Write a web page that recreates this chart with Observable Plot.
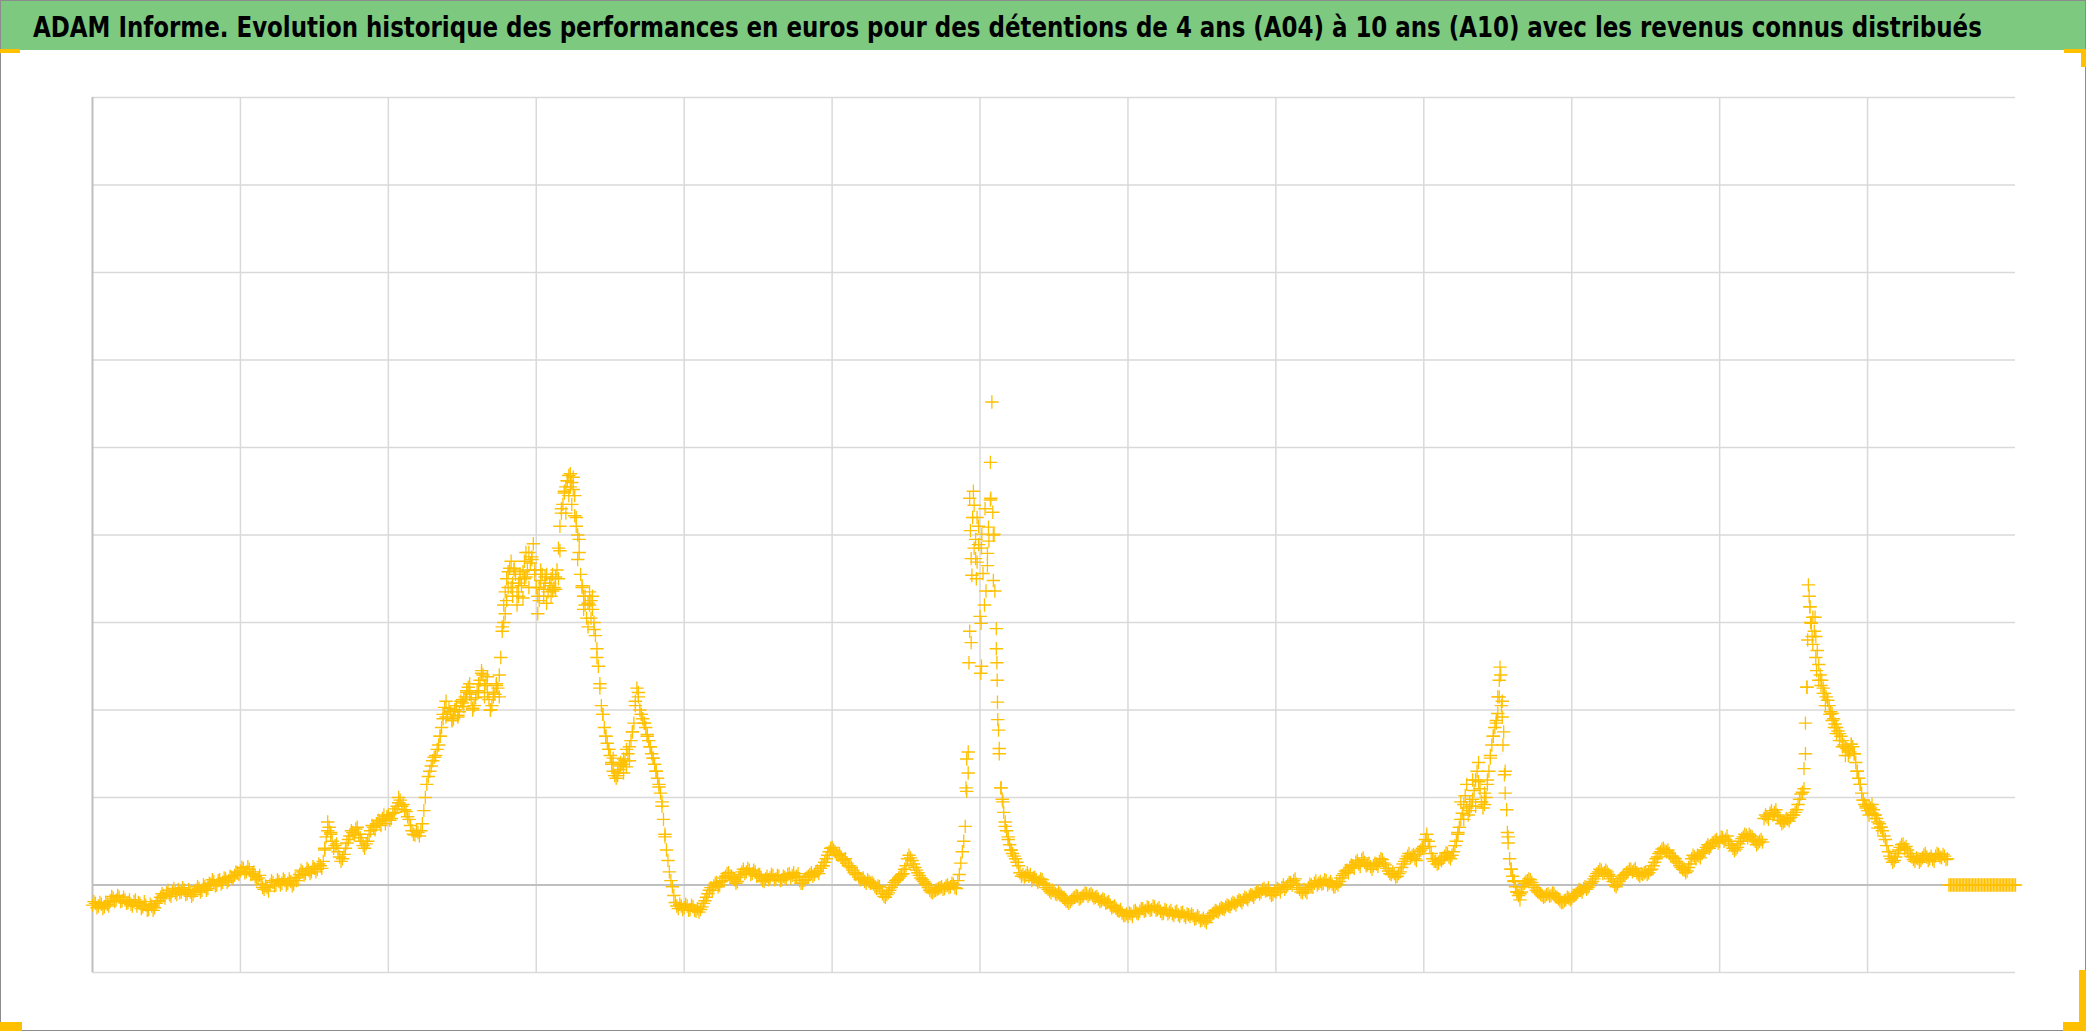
<!DOCTYPE html>
<html><head><meta charset="utf-8">
<script src="https://cdn.jsdelivr.net/npm/d3@7"></script>
<script src="https://cdn.jsdelivr.net/npm/@observablehq/plot@0.6"></script>
<style>
html,body{margin:0;padding:0;background:#fff;}
#frame{position:relative;width:2086px;height:1031px;overflow:hidden;background:#fff;}
#border{position:absolute;left:0;top:0;width:2084px;height:1029px;border:1px solid #8c8c8c;pointer-events:none;z-index:3;}
#titleSvg{position:absolute;left:0;top:0;}
#chart{position:absolute;left:0;top:50px;}
.h{position:absolute;background:#ffc000;z-index:4;}
</style>
</head><body>
<div id="frame">
  <svg id="titleSvg" width="2086" height="50">
    <rect x="0" y="0" width="2086" height="50" fill="#7dc97f"></rect>
    <text id="titleText" x="0" y="0" font-family="'Liberation Sans Narrow','DejaVu Sans Condensed','Roboto',sans-serif" font-weight="bold" font-size="29" fill="#000"></text>
  </svg>
  <div id="chart"></div>
  <div id="border"></div>
  <div class="h" style="left:0;top:49px;width:20px;height:4px"></div>
  <div class="h" style="left:2064px;top:49px;width:22px;height:4px"></div>
  <div class="h" style="left:2081px;top:49px;width:5px;height:18px"></div>
  <div class="h" style="left:0;top:1022px;width:22px;height:9px"></div>
  <div class="h" style="left:2063px;top:1022px;width:23px;height:9px"></div>
  <div class="h" style="left:2079px;top:970px;width:7px;height:61px"></div>
</div>
<script>
const title = "ADAM Informe. Evolution historique des performances en euros pour des détentions de 4 ans (A04) à 10 ans (A10) avec les revenus connus distribués";

// Grid positions (no labels shown on the original)
const xTicks = [1,2,3,4,5,6,7,8,9,10,11,12];
const yTicks = [-1,1,2,3,4,5,6,7,8,9];
const xDomain = [0, 13];
const yDomain = [-1, 9];
const dt = 0.02; // regular sampling step of the series along x

// Main series, one segment per x-interval (50 samples each)
const seg00 = [-0.23,-0.21,-0.24,-0.22,-0.25,-0.22,-0.18,-0.15,-0.17,-0.14,-0.18,-0.17,-0.20,-0.22,-0.19,-0.24,-0.21,-0.25,-0.23,-0.28,-0.24,-0.26,-0.19,-0.14,-0.12,-0.09,-0.11,-0.07,-0.09,-0.05,-0.08,-0.06,-0.10,-0.08,-0.11,-0.06,-0.04,-0.06,-0.02,-0.04,0.01,0.04,0.00,0.06,0.03,0.07,0.05,0.09,0.11,0.14];
const seg01 = [0.16,0.19,0.15,0.18,0.13,0.10,0.08,0.01,-0.05,-0.03,0.00,0.03,0.00,0.04,0.02,0.05,0.02,0.04,0.01,0.05,0.12,0.15,0.13,0.17,0.15,0.19,0.18,0.22,0.27,0.55,0.66,0.50,0.45,0.38,0.27,0.35,0.48,0.56,0.60,0.64,0.58,0.50,0.42,0.50,0.62,0.66,0.70,0.72,0.76,0.70];
const seg02 = [0.80,0.76,0.83,0.90,0.97,0.92,0.84,0.75,0.62,0.57,0.60,0.62,0.85,1.15,1.30,1.42,1.48,1.60,1.80,2.03,1.95,1.98,1.90,2.05,1.98,2.08,2.15,2.26,2.12,2.05,2.22,2.34,2.40,2.30,2.12,2.05,2.18,2.25,2.60,3.20,3.50,3.62,3.45,3.55,3.30,3.42,3.70,3.60,3.68,3.90];
const seg03 = [3.40,3.25,3.55,3.45,3.35,3.50,3.40,3.60,4.10,4.35,4.55,4.68,4.60,4.45,4.00,3.55,3.30,3.05,3.35,3.15,2.85,2.50,2.05,1.80,1.62,1.48,1.30,1.22,1.32,1.38,1.42,1.50,1.65,1.85,2.25,2.00,1.90,1.80,1.65,1.50,1.38,1.22,1.05,0.75,0.40,0.15,-0.02,-0.20,-0.27,-0.24];
const seg04 = [-0.26,-0.24,-0.28,-0.25,-0.30,-0.31,-0.25,-0.18,-0.10,-0.03,-0.01,0.03,0.00,0.05,0.10,0.14,0.10,0.06,0.04,0.12,0.18,0.15,0.17,0.13,0.15,0.12,0.08,0.04,0.10,0.08,0.11,0.07,0.10,0.06,0.09,0.12,0.08,0.14,0.10,0.05,0.02,0.06,0.10,0.14,0.12,0.16,0.19,0.22,0.30,0.38];
const seg05 = [0.43,0.38,0.34,0.32,0.28,0.25,0.22,0.17,0.12,0.09,0.07,0.04,0.06,0.02,0.01,-0.04,-0.02,-0.10,-0.14,-0.09,-0.03,0.03,0.06,0.10,0.13,0.22,0.34,0.28,0.20,0.14,0.08,0.04,0.00,-0.06,-0.09,-0.06,-0.04,-0.02,-0.04,0.00,-0.02,0.01,-0.04,0.12,0.38,0.67,1.52,3.73,4.34,3.69];
const seg06 = [3.07,3.56,3.36,3.93,5.52,3.36,1.89,1.11,0.83,0.62,0.46,0.36,0.30,0.22,0.10,0.09,0.14,0.12,0.08,0.06,0.04,0.06,0.00,-0.05,-0.09,-0.07,-0.11,-0.10,-0.14,-0.18,-0.21,-0.17,-0.14,-0.13,-0.15,-0.12,-0.10,-0.11,-0.12,-0.14,-0.16,-0.18,-0.17,-0.20,-0.23,-0.25,-0.27,-0.30,-0.32,-0.35];
const seg07 = [-0.36,-0.33,-0.30,-0.32,-0.30,-0.27,-0.29,-0.26,-0.28,-0.25,-0.28,-0.30,-0.32,-0.29,-0.31,-0.33,-0.31,-0.34,-0.32,-0.35,-0.33,-0.36,-0.35,-0.38,-0.37,-0.40,-0.41,-0.38,-0.35,-0.32,-0.30,-0.28,-0.27,-0.25,-0.24,-0.22,-0.21,-0.19,-0.18,-0.17,-0.15,-0.13,-0.12,-0.10,-0.07,-0.08,-0.04,-0.06,-0.09,-0.11];
const seg08 = [-0.08,-0.05,-0.03,-0.05,0.00,0.03,0.05,0.01,-0.05,-0.09,-0.07,-0.03,0.00,0.02,0.00,0.04,0.02,0.05,0.02,0.01,-0.02,0.00,0.08,0.13,0.17,0.20,0.22,0.26,0.24,0.29,0.26,0.23,0.21,0.22,0.24,0.27,0.29,0.23,0.16,0.12,0.13,0.10,0.15,0.24,0.30,0.36,0.33,0.30,0.35,0.40];
const seg09 = [0.44,0.58,0.44,0.30,0.27,0.25,0.28,0.33,0.36,0.30,0.38,0.50,0.66,0.82,1.02,0.80,0.90,1.08,1.30,1.10,0.88,1.00,1.30,1.60,1.80,1.96,2.40,1.75,0.86,0.30,0.10,-0.02,-0.12,-0.08,0.02,0.05,0.06,0.00,-0.06,-0.09,-0.12,-0.13,-0.10,-0.12,-0.10,-0.14,-0.18,-0.20,-0.17,-0.15];
const seg10 = [-0.15,-0.12,-0.08,-0.06,-0.04,-0.05,-0.01,0.04,0.10,0.15,0.17,0.14,0.15,0.10,0.04,-0.02,0.04,0.09,0.12,0.15,0.18,0.17,0.14,0.10,0.12,0.15,0.14,0.18,0.26,0.32,0.38,0.42,0.38,0.36,0.33,0.30,0.25,0.20,0.17,0.16,0.24,0.34,0.30,0.33,0.36,0.40,0.46,0.44,0.49,0.52];
const seg11 = [0.50,0.54,0.52,0.50,0.45,0.39,0.43,0.50,0.55,0.57,0.58,0.55,0.50,0.48,0.52,0.76,0.78,0.82,0.80,0.86,0.78,0.70,0.73,0.75,0.77,0.80,0.86,0.98,1.06,1.50,3.43,2.99,2.90,2.68,2.40,2.25,2.15,2.05,1.96,1.84,1.76,1.70,1.60,1.56,1.52,1.58,1.40,1.22,1.05,0.92];
const seg12 = [0.85,0.88,0.86,0.76,0.70,0.62,0.52,0.38,0.30,0.28,0.36,0.43,0.47,0.44,0.36,0.32,0.27,0.30,0.28,0.34,0.32,0.30,0.29,0.33,0.35,0.31,0.33,0.30,0,0,0,0,0,0,0,0,0,0,0,0,0,0,0,0,0,0,0,0,0,0,0];

// Intermediate observations, read between the samples above (offset by half a step)
const segB00 = [-0.19,-0.26,-0.20,-0.27,-0.20,-0.24,-0.13,-0.19,-0.12,-0.19,-0.14,-0.21,-0.17,-0.24,-0.17,-0.20,-0.27,-0.19,-0.29,-0.22,-0.29,-0.21,-0.18,-0.10,-0.15,-0.06,-0.13,-0.04,-0.11,-0.09,-0.03,-0.11,-0.05,-0.13,-0.07,-0.02,-0.08,0.00,-0.06,0.02,0.06,-0.01,0.05,0.01,0.08,0.03,0.10,0.07,0.15,0.12];
const segB01 = [0.20,0.14,0.21,0.12,0.15,0.06,0.11,-0.03,-0.01,-0.07,0.05,-0.01,0.06,0.00,0.07,0.00,0.07,-0.01,0.08,0.09,0.17,0.11,0.19,0.13,0.21,0.15,0.24,0.19,0.40,0.62,0.58,0.42,0.47,0.32,0.30,0.42,0.52,0.62,0.57,0.66,0.54,0.45,0.47,0.58,0.68,0.63,0.74,0.68,0.80,0.78];
const segB02 = [0.74,0.82,0.87,0.94,0.90,0.86,0.78,0.68,0.58,0.62,0.56,0.70,1.00,1.24,1.36,1.46,1.55,1.70,1.95,1.92,2.02,1.88,2.00,1.94,2.10,2.04,2.22,2.18,2.00,2.14,2.30,2.42,2.28,2.20,2.00,2.15,2.28,2.40,2.95,3.35,3.58,3.40,3.62,3.35,3.50,3.58,3.52,3.80,3.72,3.60];
const segB03 = [3.30,3.48,3.38,3.55,3.42,3.36,3.52,3.85,4.25,4.48,4.62,4.55,4.66,4.20,3.80,3.42,3.20,3.22,3.25,3.00,2.70,2.25,1.95,1.70,1.55,1.40,1.25,1.28,1.36,1.44,1.35,1.58,1.75,2.05,2.15,1.95,1.85,1.72,1.58,1.45,1.30,1.12,0.90,0.58,0.28,0.05,-0.12,-0.24,-0.22,-0.28];
const segB04 = [-0.22,-0.29,-0.23,-0.29,-0.27,-0.28,-0.21,-0.14,-0.06,-0.06,0.02,-0.02,0.04,0.08,0.13,0.10,0.08,0.02,0.09,0.15,0.13,0.19,0.12,0.17,0.10,0.12,0.05,0.07,0.06,0.12,0.06,0.11,0.05,0.10,0.07,0.13,0.11,0.09,0.13,0.02,0.05,0.09,0.12,0.10,0.15,0.13,0.22,0.26,0.34,0.42];
const segB05 = [0.40,0.35,0.36,0.29,0.30,0.22,0.20,0.14,0.13,0.06,0.08,0.02,0.04,0.03,-0.02,-0.01,-0.07,-0.13,-0.11,-0.06,0.00,0.05,0.08,0.12,0.18,0.30,0.31,0.24,0.17,0.11,0.06,0.02,-0.03,-0.08,-0.07,-0.05,-0.03,-0.05,-0.01,-0.03,0.02,-0.03,0.05,0.25,0.50,1.07,2.90,4.20,3.95,4.10];
const segB06 = [3.85,3.20,3.65,4.40,4.00,2.70,1.50,0.98,0.72,0.55,0.40,0.33,0.26,0.14,0.12,0.11,0.10,0.05,0.09,0.03,0.07,0.02,-0.03,-0.07,-0.06,-0.10,-0.08,-0.12,-0.16,-0.19,-0.19,-0.15,-0.12,-0.16,-0.13,-0.09,-0.13,-0.10,-0.15,-0.13,-0.19,-0.16,-0.21,-0.19,-0.26,-0.24,-0.29,-0.28,-0.35,-0.33];
const segB07 = [-0.32,-0.36,-0.29,-0.33,-0.27,-0.30,-0.25,-0.29,-0.24,-0.29,-0.26,-0.33,-0.28,-0.33,-0.29,-0.35,-0.30,-0.36,-0.31,-0.37,-0.34,-0.33,-0.39,-0.35,-0.41,-0.38,-0.43,-0.36,-0.33,-0.29,-0.31,-0.26,-0.28,-0.23,-0.25,-0.20,-0.23,-0.17,-0.20,-0.14,-0.17,-0.11,-0.14,-0.08,-0.10,-0.05,-0.07,-0.03,-0.12,-0.07];
const segB08 = [-0.04,-0.08,0.00,-0.02,0.03,0.00,0.07,-0.03,-0.08,-0.05,-0.09,0.01,-0.02,0.05,0.02,0.01,0.06,0.00,0.04,-0.02,0.02,0.04,0.11,0.16,0.14,0.23,0.19,0.28,0.21,0.31,0.22,0.25,0.18,0.25,0.21,0.30,0.25,0.19,0.13,0.15,0.09,0.13,0.20,0.27,0.33,0.31,0.35,0.28,0.38,0.42];
const segB09 = [0.52,0.50,0.36,0.27,0.24,0.29,0.31,0.37,0.32,0.34,0.45,0.58,0.75,0.92,0.88,0.85,0.98,1.20,1.18,0.95,0.92,1.15,1.48,1.70,1.88,2.15,2.10,1.30,0.55,0.18,0.04,-0.08,-0.10,-0.02,0.04,0.07,0.03,-0.03,-0.08,-0.11,-0.14,-0.11,-0.13,-0.09,-0.13,-0.16,-0.20,-0.18,-0.14,-0.17];
const segB10 = [-0.13,-0.10,-0.05,-0.08,-0.02,-0.03,0.02,0.07,0.13,0.18,0.13,0.17,0.12,0.07,0.00,0.01,0.07,0.11,0.14,0.18,0.15,0.19,0.12,0.13,0.14,0.12,0.17,0.22,0.30,0.36,0.41,0.39,0.40,0.33,0.31,0.27,0.22,0.18,0.14,0.20,0.30,0.32,0.34,0.31,0.38,0.43,0.42,0.48,0.51,0.48];
const segB11 = [0.55,0.50,0.56,0.47,0.42,0.41,0.47,0.53,0.58,0.54,0.56,0.52,0.46,0.50,0.49,0.80,0.75,0.85,0.83,0.80,0.74,0.72,0.76,0.73,0.80,0.83,0.92,1.04,1.10,2.26,3.18,3.06,2.84,2.52,2.34,2.19,2.11,1.98,1.90,1.80,1.73,1.65,1.58,1.48,1.61,1.50,1.30,1.15,0.97,0.88];
const segB12 = [0.90,0.82,0.80,0.72,0.66,0.56,0.45,0.33,0.26,0.32,0.40,0.46,0.42,0.40,0.33,0.29,0.31,0.26,0.31,0.36,0.28,0.33,0.27,0.36,0.32,0.35,0.29,0,0,0,0,0,0,0,0,0,0,0,0,0,0,0,0,0,0,0,0,0,0,0];

// Extra scattered observations in the volatile periods
const spikeAT = [1.57,1.59,1.61,2.07,2.35,2.37,2.39,2.43,2.45,2.47,2.51,2.53,2.55,2.57,2.61,2.63,2.65,2.67,2.69,2.71,2.73,2.75,2.77,2.78,2.79,2.80,2.81,2.83,2.84,2.85,2.87,2.88,2.89,2.91,2.92,2.93,2.95,2.97,2.99,3.01,3.02,3.03,3.05,3.06,3.07,3.09,3.10,3.11,3.13,3.15,3.16,3.17,3.19,3.20,3.21,3.22,3.23,3.24,3.25,3.26,3.27,3.28,3.29,3.31,3.32,3.33,3.35,3.36,3.37,3.38,3.39,3.41,3.43,3.45,3.47,3.49,3.51,3.52,3.55,3.57,3.59,3.61,3.63,3.65,3.67,3.69,3.71,3.73,3.75,3.77,3.79,3.81,3.83,3.85,3.87];
const spikeAV = [0.42,0.72,0.60,1.00,1.70,1.90,2.10,1.88,2.00,1.92,2.12,2.20,2.30,2.02,2.20,2.45,2.15,2.38,2.00,2.20,2.30,2.15,2.90,3.00,3.10,3.25,3.40,3.70,3.30,3.60,3.20,3.45,3.55,3.28,3.50,3.80,3.40,3.75,3.55,3.10,3.40,3.60,3.30,3.52,3.22,3.45,3.30,3.55,3.38,3.50,3.82,4.30,4.50,4.25,4.62,4.45,4.70,4.35,4.52,4.22,4.10,3.72,3.95,3.40,3.15,3.30,2.95,3.20,3.05,3.30,2.92,2.60,2.30,1.95,1.70,1.55,1.38,1.45,1.25,1.40,1.28,1.55,1.42,1.75,2.10,2.20,1.95,1.85,1.70,1.58,1.45,1.30,1.15,0.95,0.55];
const spikeBT = [5.905,5.91,5.92,5.925,5.93,5.935,5.94,5.945,5.955,5.96,5.97,5.975,5.98,5.99,6.005,6.007,6.01,6.012,6.034,6.05,6.057,6.07,6.073,6.086,6.09,6.095,6.11,6.114,6.116,6.118,6.125,6.13,6.143,6.155,6.17,6.19,6.21];
const spikeBV = [1.11,1.44,1.28,2.54,4.42,4.05,2.77,3.54,4.50,3.85,3.73,3.50,4.20,3.89,2.42,2.99,2.50,4.01,4.30,3.79,4.09,4.83,4.42,4.26,3.48,4.01,2.93,2.54,2.34,2.09,1.77,1.56,1.11,0.95,0.67,0.52,0.40];
const spikeCT = [9.23,9.25,9.27,9.29,9.31,9.33,9.35,9.37,9.39,9.41,9.43,9.45,9.47,9.49,9.50,9.51,9.515,9.525,9.53,9.535,9.545,9.55,9.565,9.57,9.59,9.61,9.63,9.65];
const spikeCV = [0.60,0.95,0.75,1.15,0.95,1.20,0.90,1.40,0.95,1.05,1.20,1.45,1.70,1.85,2.15,2.34,2.49,2.05,1.92,1.60,1.26,1.05,0.60,0.48,0.18,0.05,-0.08,-0.17];
const spikeDT = [11.57,11.58,11.59,11.595,11.605,11.61,11.615,11.625,11.63,11.645,11.65,11.655,11.67,11.685,11.70,11.715,11.73,11.745,11.76,11.775,11.79,11.81,11.83,11.85,11.87,11.89,11.91,11.93,11.95,11.97,11.99,12.01,12.03,12.05,12.07,12.09];
const spikeDV = [1.33,1.85,2.26,2.80,3.30,3.18,3.00,2.84,2.75,3.06,2.60,2.45,2.34,2.28,2.19,2.05,2.11,1.95,1.88,1.80,1.73,1.65,1.58,1.48,1.54,1.61,1.50,1.30,1.15,0.97,0.90,0.80,0.92,0.80,0.65,0.66];

// Title: real text, fitted to the banner width
const tt = document.getElementById("titleText");
tt.textContent = title;
const natural = tt.getComputedTextLength();
const sx = natural > 0 ? 1950 / natural : 1;
tt.setAttribute("transform", `translate(33,37) scale(${sx},1)`);

const perf = [].concat(seg00,seg01,seg02,seg03,seg04,seg05,seg06,seg07,seg08,seg09,seg10,seg11,seg12);
const perfB = [].concat(segB00,segB01,segB02,segB03,segB04,segB05,segB06,segB07,segB08,segB09,segB10,segB11,segB12);
const data = perf.map((v, i) => ({t: i * dt, v}));
perfB.forEach((v, i) => data.push({t: i * dt + dt / 2, v}));
[[spikeAT,spikeAV],[spikeBT,spikeBV],[spikeCT,spikeCV],[spikeDT,spikeDV]].forEach(([ts, vs]) => {
  ts.forEach((t, i) => data.push({t, v: vs[i]}));
});

const chart = Plot.plot({
  width: 2086,
  height: 981,
  marginTop: 47,
  marginBottom: 59,
  marginLeft: 92,
  marginRight: 71,
  x: {domain: xDomain, axis: null},
  y: {domain: yDomain, axis: null},
  style: {background: "transparent"},
  marks: [
    Plot.ruleX(xTicks, {stroke: "#d9d9d9", strokeWidth: 1.5}),
    Plot.ruleY(yTicks, {stroke: "#d9d9d9", strokeWidth: 1.5}),
    Plot.ruleY([0], {stroke: "#bfbfbf", strokeWidth: 2}),
    Plot.ruleX([0], {stroke: "#bfbfbf", strokeWidth: 2}),
    Plot.dot(data, {x: "t", y: "v", symbol: "plus", r: 4.4, stroke: "#ffc000", strokeWidth: 1.3})
  ]
});
document.getElementById("chart").appendChild(chart);
</script>
</body></html>
